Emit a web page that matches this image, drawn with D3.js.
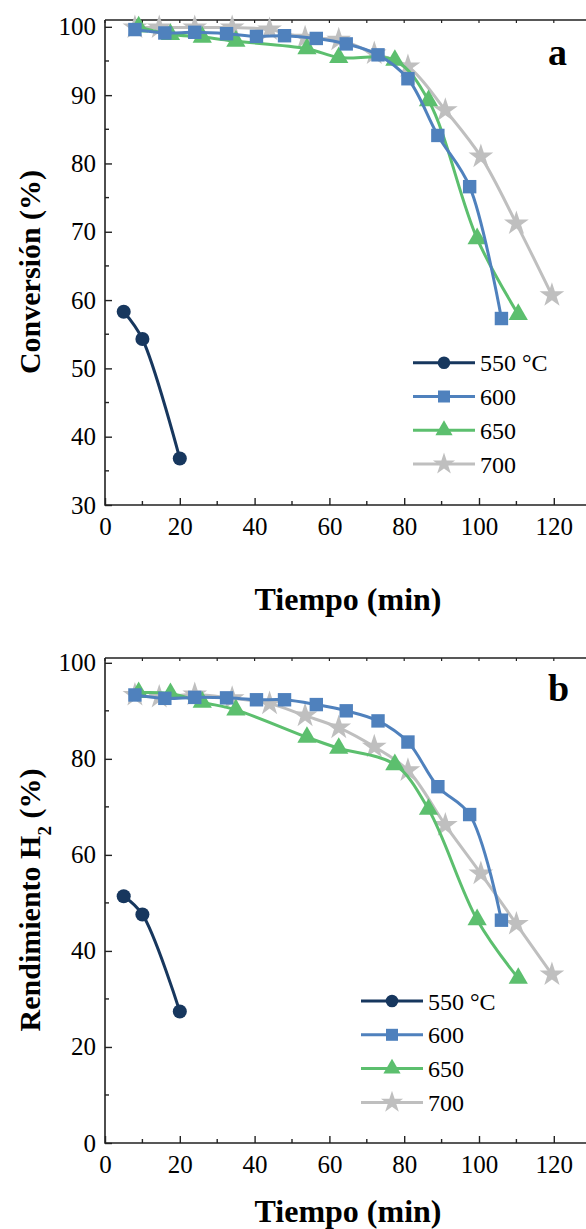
<!DOCTYPE html>
<html>
<head>
<meta charset="utf-8">
<script src="https://cdn.jsdelivr.net/npm/d3@7"></script>
<style>
  body { margin: 0; background: #fff; }
  svg { display: block; }
</style>
</head>
<body>
<svg id="chart" width="586" height="1229"></svg>
<script>
'use strict'

// series names / legend labels
const seriesNames = ['550 °C', '600', '650', '700'];
const seriesColors = ['#17375e', '#4f81bd', '#5cbf6e', '#bfbfbf'];
const seriesSymbols = [d3.symbolCircle, d3.symbolSquare, d3.symbolTriangle, d3.symbolStar];
const symbolSizes = [155, 180, 160, 190];

// time values (min) for each series
const t550 = [5, 10, 20];
const t600 = [8, 16, 24, 32.5, 40.5, 48, 56.5, 64.5, 73, 81, 89, 97.5, 106];
const t650 = [9, 17.5, 26, 35, 54, 62.5, 77.5, 86.5, 99.5, 110.5];
const t700 = [8, 14.5, 24, 34, 44, 53.5, 62.5, 72, 81, 91, 100.5, 110, 119.5];

// panel a: conversión (%)
const conv550 = [58.3, 54.3, 36.8];
const conv600 = [99.6, 99.1, 99.2, 99.0, 98.6, 98.7, 98.3, 97.5, 95.9, 92.4, 84.1, 76.6, 57.3];
const conv650 = [100.0, 98.9, 98.5, 97.9, 96.8, 95.5, 95.1, 89.2, 69.0, 57.9];
const conv700 = [99.9, 99.9, 99.9, 99.9, 99.6, 98.4, 98.1, 96.1, 94.2, 87.8, 81.0, 71.2, 60.7];

// panel b: rendimiento H2 (%)
const rend550 = [51.4, 47.6, 27.4];
const rend600 = [93.3, 92.6, 92.8, 92.7, 92.3, 92.3, 91.3, 90.0, 87.9, 83.5, 74.2, 68.4, 46.4];
const rend650 = [93.8, 93.6, 91.8, 90.2, 84.5, 82.2, 78.8, 69.5, 46.5, 34.3];
const rend700 = [93.3, 92.9, 93.4, 92.6, 91.5, 89.0, 86.5, 82.5, 77.6, 66.2, 56.1, 45.6, 35.1];

// ticks
const xTicks = [0, 20, 40, 60, 80, 100, 120];
const xMinor = [10, 30, 50, 70, 90, 110, 130];
const yTicksA = [30, 40, 50, 60, 70, 80, 90, 100];
const yTicksB = [0, 20, 40, 60, 80, 100];

const times = [t550, t600, t650, t700];
const FONT = 'Liberation Serif';
const svg = d3.select('#chart');

const x = d3.scaleLinear().domain([0, 130]).range([105, 591.2]);

function drawPanel(p) {
  const y = d3.scaleLinear().domain(p.yDomain).range(p.yRange);
  const g = svg.append('g');
  const top = p.yRange[1], bot = p.yRange[0];

  // frame: left, bottom, top
  g.append('path')
    .attr('d', `M${x(0)},${top}V${bot}H${x(130)}M${x(0)},${top}H${x(130)}`)
    .attr('fill', 'none').attr('stroke', '#222').attr('stroke-width', 1.6);

  // bottom axis, inward ticks
  const xa = g.append('g').attr('transform', `translate(0,${bot})`)
    .call(d3.axisBottom(x).tickValues(xTicks).tickSizeInner(-7).tickSizeOuter(0).tickPadding(12));
  xa.attr('font-family', FONT);
  xa.select('.domain').remove();
  xa.selectAll('line').attr('stroke', '#222').attr('stroke-width', 1.4);
  xa.selectAll('text').attr('font-size', 25).attr('font-family', FONT).attr('fill', '#000');
  g.selectAll('.xminor').data(xMinor).join('line')
    .attr('x1', d => x(d)).attr('x2', d => x(d))
    .attr('y1', bot).attr('y2', bot - 4).attr('stroke', '#222').attr('stroke-width', 1.4);
  // ticks on top border
  g.selectAll('.xtop').data(xTicks.concat(xMinor)).join('line')
    .attr('x1', d => x(d)).attr('x2', d => x(d))
    .attr('y1', top).attr('y2', top + 3).attr('stroke', '#222').attr('stroke-width', 1.2);

  // left axis
  const ya = g.append('g').attr('transform', `translate(${x(0)},0)`)
    .call(d3.axisLeft(y).tickValues(p.yTicks).tickSizeInner(-7).tickSizeOuter(0).tickPadding(9));
  ya.attr('font-family', FONT);
  ya.select('.domain').remove();
  ya.selectAll('line').attr('stroke', '#222').attr('stroke-width', 1.4);
  ya.selectAll('text').attr('font-size', 25).attr('font-family', FONT).attr('fill', '#000');
  g.selectAll('.yminor').data(p.yMinor).join('line')
    .attr('y1', d => y(d)).attr('y2', d => y(d))
    .attr('x1', x(0)).attr('x2', x(0) + 4).attr('stroke', '#222').attr('stroke-width', 1.4);

  // series
  const line = d3.line().curve(d3.curveCatmullRom.alpha(0.5)).x(d => x(d[0])).y(d => y(d[1]));
  [3, 2, 1, 0].forEach(i => {
    const pts = times[i].map((t, k) => [t, p.values[i][k]]);
    const s = g.append('g');
    s.append('path').datum(pts).attr('d', line)
      .attr('fill', 'none').attr('stroke', seriesColors[i]).attr('stroke-width', 3);
    s.selectAll('path.m').data(pts).join('path').attr('class', 'm')
      .attr('transform', d => `translate(${x(d[0])},${y(d[1])})`)
      .attr('d', d3.symbol(seriesSymbols[i], symbolSizes[i]))
      .attr('fill', seriesColors[i]);
  });

  // legend
  const lg = g.append('g').attr('transform', `translate(${p.legend[0]},${p.legend[1]})`);
  seriesNames.forEach((name, i) => {
    const r = lg.append('g').attr('transform', `translate(0,${i * 33.8})`);
    r.append('line').attr('x1', 0).attr('x2', 62)
      .attr('stroke', seriesColors[i]).attr('stroke-width', 3);
    r.append('path').attr('transform', 'translate(31,0)')
      .attr('d', d3.symbol(seriesSymbols[i], symbolSizes[i] * 0.8))
      .attr('fill', seriesColors[i]);
    r.append('text').attr('x', 67).attr('y', 8.5)
      .attr('font-family', FONT).attr('font-size', 24).text(name);
  });

  // panel letter
  g.append('text').attr('x', p.letter[0]).attr('y', p.letter[1])
    .attr('font-family', FONT).attr('font-size', 38).attr('font-weight', 'bold').text(p.letterText);

  // x title
  g.append('text').attr('x', 348).attr('y', bot + p.xTitleGap)
    .attr('text-anchor', 'middle').attr('font-family', FONT)
    .attr('font-size', 32).attr('font-weight', 'bold')
    .text('Tiempo (min)');

  // y title
  const yt = g.append('text')
    .attr('transform', `translate(40,${p.yTitleY}) rotate(-90)`)
    .attr('text-anchor', 'middle').attr('font-family', FONT)
    .attr('font-size', 30).attr('font-weight', 'bold');
  p.yTitle(yt);
}

drawPanel({
  yDomain: [30, 101], yRange: [505, 20],
  yTicks: yTicksA, yMinor: [35, 45, 55, 65, 75, 85, 95],
  values: [conv550, conv600, conv650, conv700],
  legend: [413, 362.7],
  letter: [548, 65], letterText: 'a',
  xTitleGap: 105,
  yTitleY: 272,
  yTitle: t => t.text('Conversión (%)')
});

drawPanel({
  yDomain: [0, 101], yRange: [1143, 658],
  yTicks: yTicksB, yMinor: [10, 30, 50, 70, 90],
  values: [rend550, rend600, rend650, rend700],
  legend: [361, 1001],
  letter: [548, 701], letterText: 'b',
  xTitleGap: 79,
  yTitleY: 900,
  yTitle: t => {
    t.append('tspan').text('Rendimiento H');
    t.append('tspan').attr('baseline-shift', 'sub').attr('font-size', 19).text('2');
    t.append('tspan').text(' (%)');
  }
});
</script>
</body>
</html>
